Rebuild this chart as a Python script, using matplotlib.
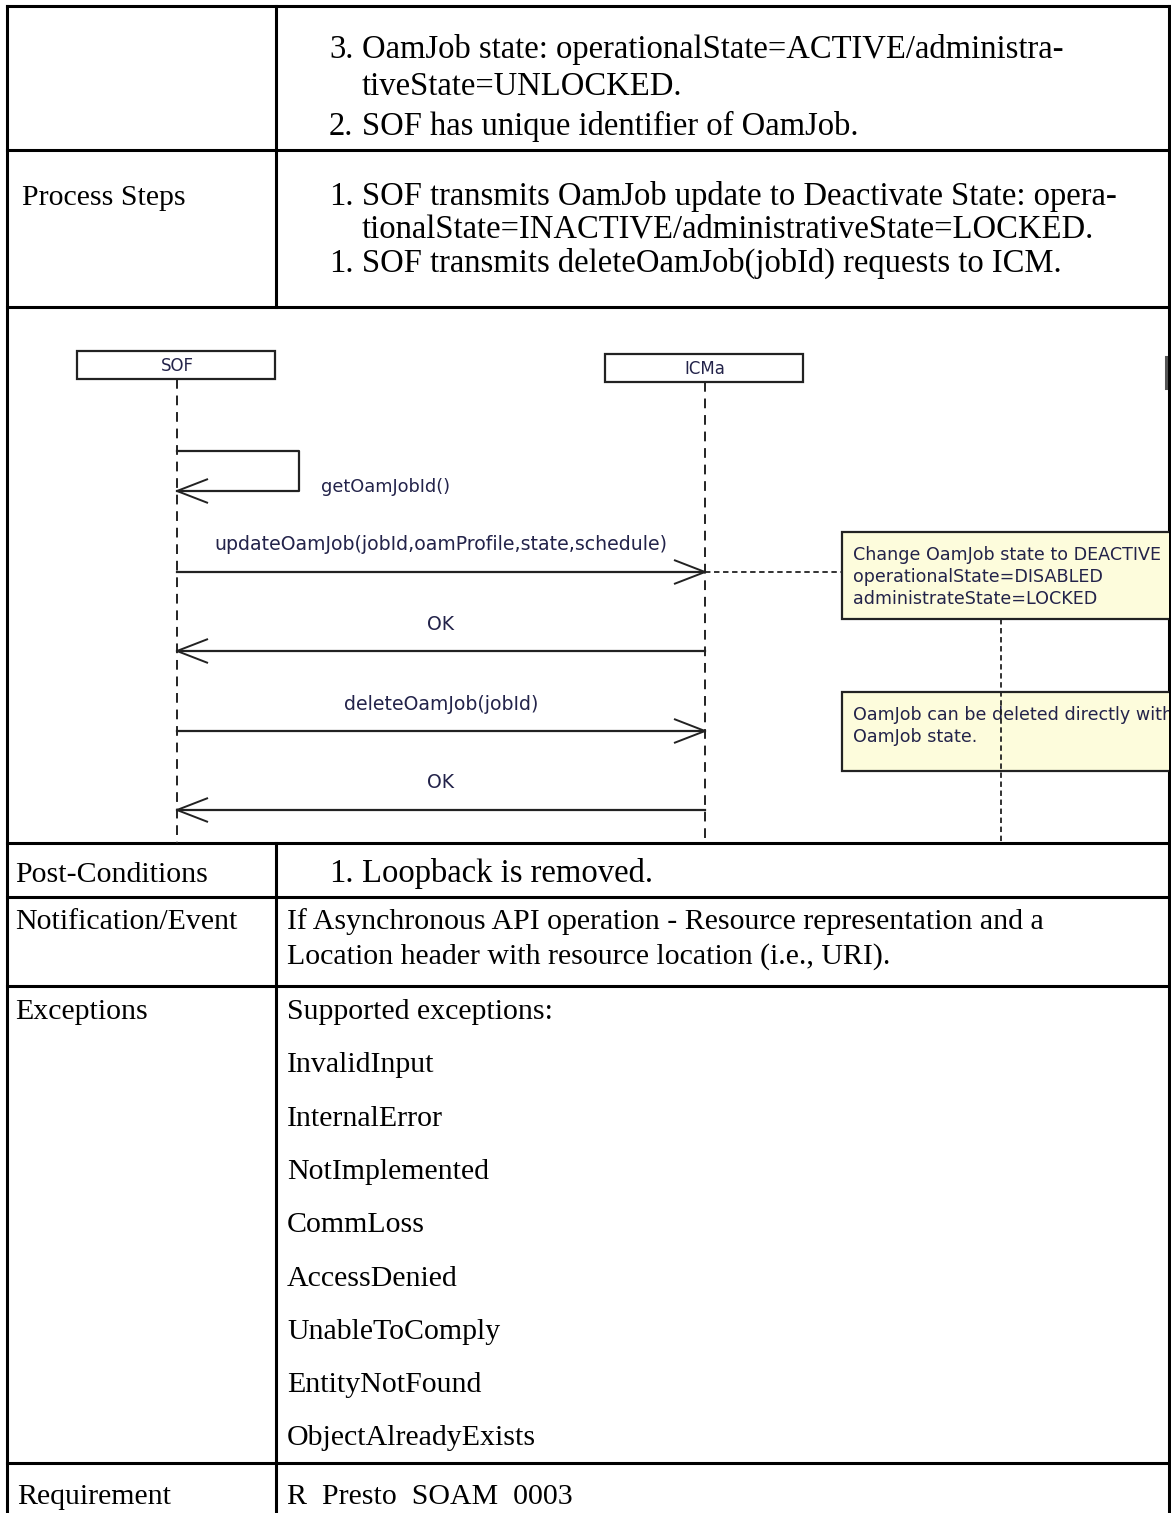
import matplotlib.pyplot as plt
from matplotlib.patches import Rectangle

# page size in pixels
W, H = 1171, 1513

# table structure (pixel rows)
row_lines = [6, 150, 307, 843, 897, 986, 1463]
col_x = 276
left_x, right_x = 7, 1169

# left column labels: (text, x, baseline)
row_labels = [("Process Steps", 22, 205), ("Post-Conditions", 15, 882),
              ("Notification/Event", 15, 929), ("Exceptions", 15, 1019),
              ("Requirement", 17, 1504)]

# numbered items in the right column: (number, text, baseline)
numbered = [("3.", "OamJob state: operationalState=ACTIVE/administra-", 58),
            ("", "tiveState=UNLOCKED.", 95),
            ("2.", "SOF has unique identifier of OamJob.", 135),
            ("1.", "SOF transmits OamJob update to Deactivate State: opera-", 205),
            ("", "tionalState=INACTIVE/administrativeState=LOCKED.", 238),
            ("1.", "SOF transmits deleteOamJob(jobId) requests to ICM.", 272),
            ("1.", "Loopback is removed.", 882)]

# plain paragraphs in the right column
notif_lines = ["If Asynchronous API operation - Resource representation and a",
               "Location header with resource location (i.e., URI)."]
notif_base = [929, 964]
exceptions = ["Supported exceptions:", "InvalidInput", "InternalError",
              "NotImplemented", "CommLoss", "AccessDenied", "UnableToComply",
              "EntityNotFound", "ObjectAlreadyExists"]
exc_base0, exc_step = 1019, 53.3
requirement = "R  Presto  SOAM  0003"

# sequence diagram
participants = ["SOF", "ICMa"]
part_x = [177, 705]
part_top = [351, 354]
box_w, box_h = 198, 28
self_call = ("getOamJobId()", 451, 491)
messages = [("updateOamJob(jobId,oamProfile,state,schedule)", 0, 1, 572),
            ("OK", 1, 0, 651),
            ("deleteOamJob(jobId)", 0, 1, 731),
            ("OK", 1, 0, 810)]
notes = [(["Change OamJob state to DEACTIVE", "operationalState=DISABLED",
           "administrateState=LOCKED"], 532, 619),
         (["OamJob can be deleted directly with", "OamJob state."], 692, 771)]
note_x = 842
note_line_x = 1001

serif = "Liberation Serif"
sans = "DejaVu Sans"
ink = "#23234a"
fs_list = 23.5
fs = 21.5

fig = plt.figure(figsize=(W / 100, H / 100), dpi=100)
ax = fig.add_axes([0, 0, 1, 1])
ax.set_xlim(0, W)
ax.set_ylim(H, 0)
ax.axis("off")

# --- diagram (own axes so that notes get clipped at the border)
dtop, dbot = row_lines[2], row_lines[3]
dax = fig.add_axes([left_x / W, 1 - dbot / H, (right_x - left_x) / W, (dbot - dtop) / H])
dax.set_xlim(left_x, right_x)
dax.set_ylim(dbot, dtop)
dax.axis("off")

for name, x, top in zip(participants, part_x, part_top):
    dax.add_patch(Rectangle((x - 100, top), box_w, box_h, fill=False, ec="#222222", lw=1.6))
    dax.text(x, top + box_h / 2 + 1, name, ha="center", va="center", fontsize=12,
             family=sans, color=ink)
    dax.plot([x, x], [top + box_h, dbot], color="#222222", lw=1.4, ls=(0, (5, 3.5)))


def head(x, y, direction):
    dax.plot([x + direction * 31, x, x + direction * 31], [y - 12, y, y + 12],
             color="#222222", lw=1.4, solid_capstyle="butt")


label, y0, y1 = self_call
sx = part_x[0]
dax.plot([sx, 299, 299, sx], [y0, y0, y1, y1], color="#222222", lw=1.6)
head(sx, y1, 1)
dax.text(321, y1 - 4, label, ha="left", va="center", fontsize=12.8, family=sans, color=ink)

for label, a, b, y in messages:
    xa, xb = part_x[a], part_x[b]
    dax.plot([xa, xb], [y, y], color="#222222", lw=1.6)
    head(xb, y, 1 if xb < xa else -1)
    dax.text((xa + xb) / 2, y - 27, label, ha="center", va="center", fontsize=13.6,
             family=sans, color=ink)

# connector from ICMa to the first note, and the note line
dax.plot([part_x[1], note_x], [572, 572], color="#222222", lw=1.3, ls=(0, (3, 2)))
for lines, top, bot in notes:
    dax.add_patch(Rectangle((note_x, top), 400, bot - top, fc="#fdfcdc", ec="#222222", lw=1.6))
    for i, t in enumerate(lines):
        dax.text(note_x + 11, top + 23 + i * 22, t, ha="left", va="center", fontsize=12.6,
                 family=sans, color=ink, clip_on=True)
dax.plot([note_line_x, note_line_x], [notes[0][2], dbot], color="#222222", lw=1.3,
         ls=(0, (3, 2)), zorder=5)
dax.plot([1166, 1166], [357, 388], color="#555555", lw=2.2)

# --- table grid
for y in row_lines:
    ax.plot([left_x, right_x], [y, y], color="black", lw=2.2, solid_capstyle="projecting")
ax.plot([left_x, left_x], [row_lines[0], H], color="black", lw=2.2)
ax.plot([right_x, right_x], [row_lines[0], H], color="black", lw=2.2)
ax.plot([col_x, col_x], [row_lines[0], row_lines[2]], color="black", lw=2.2)
ax.plot([col_x, col_x], [row_lines[3], H], color="black", lw=2.2)

for t, x, yb in row_labels:
    ax.text(x, yb, t, ha="left", va="baseline", fontsize=fs, family=serif)

for num, t, yb in numbered:
    if num:
        ax.text(329, yb, num, ha="left", va="baseline", fontsize=fs_list, family=serif)
    ax.text(362, yb, t, ha="left", va="baseline", fontsize=fs_list, family=serif)

for t, yb in zip(notif_lines, notif_base):
    ax.text(287, yb, t, ha="left", va="baseline", fontsize=fs, family=serif)

for i, t in enumerate(exceptions):
    ax.text(287, exc_base0 + i * exc_step, t, ha="left", va="baseline", fontsize=fs,
            family=serif)
ax.text(287, 1504, requirement, ha="left", va="baseline", fontsize=fs, family=serif)

fig.savefig("out.png", dpi=100)
